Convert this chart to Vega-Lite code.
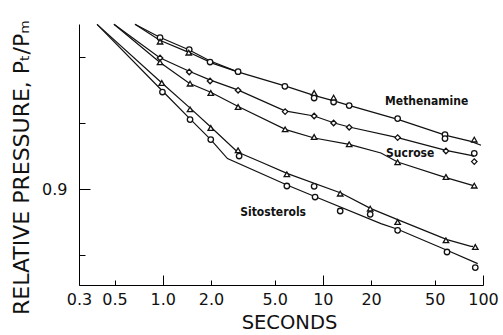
{
  "$schema": "https://vega.github.io/schema/vega-lite/v6.json",
  "width": 404,
  "height": 261,
  "autosize": {"type": "none"},
  "padding": {"left": 79, "top": 24, "right": 20, "bottom": 50},
  "background": "white",
  "config": {"view": {"stroke": null, "fill": null}},
  "datasets": {
    "lines": [
      {"s": "M1", "o": 1, "x": 0.671, "y": 1.0},
      {"s": "M1", "o": 2, "x": 0.958, "y": 0.99212},
      {"s": "M1", "o": 3, "x": 1.454, "y": 0.98455},
      {"s": "M1", "o": 4, "x": 1.967, "y": 0.97788},
      {"s": "M1", "o": 5, "x": 2.94, "y": 0.97121},
      {"s": "M1", "o": 6, "x": 5.79, "y": 0.96273},
      {"s": "M1", "o": 7, "x": 8.79, "y": 0.95697},
      {"s": "M1", "o": 8, "x": 11.72, "y": 0.95364},
      {"s": "M1", "o": 9, "x": 14.54, "y": 0.95091},
      {"s": "M1", "o": 10, "x": 29.4, "y": 0.94242},
      {"s": "M1", "o": 11, "x": 58.7, "y": 0.93273},
      {"s": "M1", "o": 12, "x": 84.1, "y": 0.92909},
      {"s": "M1", "o": 13, "x": 97.2, "y": 0.92667},
      {"s": "M2", "o": 1, "x": 0.671, "y": 1.0},
      {"s": "M2", "o": 2, "x": 0.958, "y": 0.9903},
      {"s": "M2", "o": 3, "x": 1.454, "y": 0.98303},
      {"s": "M2", "o": 4, "x": 2.054, "y": 0.97636},
      {"s": "M2", "o": 5, "x": 2.94, "y": 0.97121},
      {"s": "S1", "o": 1, "x": 0.496, "y": 1.0},
      {"s": "S1", "o": 2, "x": 0.958, "y": 0.9797},
      {"s": "S1", "o": 3, "x": 1.464, "y": 0.97152},
      {"s": "S1", "o": 4, "x": 1.967, "y": 0.96636},
      {"s": "S1", "o": 5, "x": 2.94, "y": 0.9603},
      {"s": "S1", "o": 6, "x": 5.79, "y": 0.94758},
      {"s": "S1", "o": 7, "x": 8.82, "y": 0.94442},
      {"s": "S1", "o": 8, "x": 11.77, "y": 0.94018},
      {"s": "S1", "o": 9, "x": 14.6, "y": 0.93776},
      {"s": "S1", "o": 10, "x": 29.3, "y": 0.93133},
      {"s": "S1", "o": 11, "x": 58.7, "y": 0.92364},
      {"s": "S1", "o": 12, "x": 84.1, "y": 0.92061},
      {"s": "S1", "o": 13, "x": 87.8, "y": 0.92},
      {"s": "S2", "o": 1, "x": 0.496, "y": 1.0},
      {"s": "S2", "o": 2, "x": 0.958, "y": 0.97697},
      {"s": "S2", "o": 3, "x": 1.464, "y": 0.96424},
      {"s": "S2", "o": 4, "x": 1.995, "y": 0.95879},
      {"s": "S2", "o": 5, "x": 2.94, "y": 0.9503},
      {"s": "S2", "o": 6, "x": 5.87, "y": 0.93618},
      {"s": "S2", "o": 7, "x": 8.82, "y": 0.93109},
      {"s": "S2", "o": 8, "x": 14.6, "y": 0.92727},
      {"s": "S2", "o": 9, "x": 23.05, "y": 0.922},
      {"s": "S2", "o": 10, "x": 29.3, "y": 0.91655},
      {"s": "S2", "o": 11, "x": 58.7, "y": 0.90709},
      {"s": "S2", "o": 12, "x": 90.4, "y": 0.90182},
      {"s": "T1", "o": 1, "x": 0.389, "y": 1.0},
      {"s": "T1", "o": 2, "x": 0.972, "y": 0.96503},
      {"s": "T1", "o": 3, "x": 1.496, "y": 0.94891},
      {"s": "T1", "o": 4, "x": 1.995, "y": 0.93776},
      {"s": "T1", "o": 5, "x": 2.93, "y": 0.9226},
      {"s": "T1", "o": 6, "x": 4.1, "y": 0.91655},
      {"s": "T1", "o": 7, "x": 6.02, "y": 0.90952},
      {"s": "T1", "o": 8, "x": 12.96, "y": 0.89776},
      {"s": "T1", "o": 9, "x": 19.95, "y": 0.8883},
      {"s": "T1", "o": 10, "x": 29.3, "y": 0.88164},
      {"s": "T1", "o": 11, "x": 59.6, "y": 0.86952},
      {"s": "T1", "o": 12, "x": 84.1, "y": 0.86545},
      {"s": "T1", "o": 13, "x": 86.6, "y": 0.86545},
      {"s": "C1", "o": 1, "x": 0.389, "y": 1.0},
      {"s": "C1", "o": 2, "x": 0.996, "y": 0.95958},
      {"s": "C1", "o": 3, "x": 1.496, "y": 0.94224},
      {"s": "C1", "o": 4, "x": 1.995, "y": 0.93012},
      {"s": "C1", "o": 5, "x": 2.537, "y": 0.9186},
      {"s": "C1", "o": 6, "x": 6.02, "y": 0.90242},
      {"s": "C1", "o": 7, "x": 8.82, "y": 0.89576},
      {"s": "C1", "o": 8, "x": 23.05, "y": 0.87921},
      {"s": "C1", "o": 9, "x": 29.3, "y": 0.87576},
      {"s": "C1", "o": 10, "x": 59.6, "y": 0.86303},
      {"s": "C1", "o": 11, "x": 92.7, "y": 0.85497}
    ],
    "points": [
      {"shape": "circle", "x": 0.962, "y": 0.99194},
      {"shape": "circle", "x": 1.464, "y": 0.98467},
      {"shape": "circle", "x": 1.975, "y": 0.97715},
      {"shape": "circle", "x": 2.955, "y": 0.97133},
      {"shape": "circle", "x": 5.79, "y": 0.96242},
      {"shape": "circle", "x": 8.82, "y": 0.95533},
      {"shape": "circle", "x": 11.67, "y": 0.95291},
      {"shape": "circle", "x": 14.6, "y": 0.95073},
      {"shape": "circle", "x": 29.3, "y": 0.94285},
      {"shape": "circle", "x": 57.9, "y": 0.93315},
      {"shape": "circle", "x": 57.9, "y": 0.93073},
      {"shape": "triangle", "x": 0.962, "y": 0.98952},
      {"shape": "triangle", "x": 1.454, "y": 0.98285},
      {"shape": "triangle", "x": 8.82, "y": 0.95836},
      {"shape": "triangle", "x": 11.67, "y": 0.95558},
      {"shape": "triangle", "x": 88.2, "y": 0.93012},
      {"shape": "circle", "x": 88.2, "y": 0.92182},
      {"shape": "diamond", "x": 0.962, "y": 0.97958},
      {"shape": "diamond", "x": 1.464, "y": 0.97109},
      {"shape": "diamond", "x": 1.975, "y": 0.96564},
      {"shape": "diamond", "x": 2.955, "y": 0.96},
      {"shape": "diamond", "x": 5.81, "y": 0.94709},
      {"shape": "diamond", "x": 8.82, "y": 0.94442},
      {"shape": "diamond", "x": 11.67, "y": 0.94018},
      {"shape": "diamond", "x": 14.6, "y": 0.93758},
      {"shape": "diamond", "x": 29.3, "y": 0.93133},
      {"shape": "diamond", "x": 58.7, "y": 0.92321},
      {"shape": "diamond", "x": 88.2, "y": 0.91679},
      {"shape": "triangle", "x": 0.962, "y": 0.97697},
      {"shape": "triangle", "x": 1.481, "y": 0.96406},
      {"shape": "triangle", "x": 1.995, "y": 0.95836},
      {"shape": "triangle", "x": 2.955, "y": 0.94988},
      {"shape": "triangle", "x": 5.81, "y": 0.93636},
      {"shape": "triangle", "x": 8.82, "y": 0.9317},
      {"shape": "triangle", "x": 14.6, "y": 0.92727},
      {"shape": "triangle", "x": 29.3, "y": 0.91636},
      {"shape": "triangle", "x": 58.7, "y": 0.90745},
      {"shape": "triangle", "x": 88.2, "y": 0.90224},
      {"shape": "triangle", "x": 0.986, "y": 0.96442},
      {"shape": "triangle", "x": 1.481, "y": 0.94848},
      {"shape": "triangle", "x": 1.995, "y": 0.93715},
      {"shape": "triangle", "x": 2.955, "y": 0.92364},
      {"shape": "triangle", "x": 5.96, "y": 0.90909},
      {"shape": "circle", "x": 8.82, "y": 0.90182},
      {"shape": "triangle", "x": 12.83, "y": 0.89739},
      {"shape": "triangle", "x": 19.75, "y": 0.8883},
      {"shape": "triangle", "x": 29.3, "y": 0.88018},
      {"shape": "triangle", "x": 58.7, "y": 0.86909},
      {"shape": "triangle", "x": 89.5, "y": 0.86503},
      {"shape": "circle", "x": 0.996, "y": 0.95897},
      {"shape": "circle", "x": 1.481, "y": 0.94224},
      {"shape": "circle", "x": 1.995, "y": 0.93012},
      {"shape": "circle", "x": 3.0, "y": 0.92018},
      {"shape": "circle", "x": 5.96, "y": 0.902},
      {"shape": "circle", "x": 8.94, "y": 0.89533},
      {"shape": "circle", "x": 12.83, "y": 0.88685},
      {"shape": "circle", "x": 19.75, "y": 0.88485},
      {"shape": "circle", "x": 29.3, "y": 0.87515},
      {"shape": "circle", "x": 59.6, "y": 0.862},
      {"shape": "circle", "x": 89.5, "y": 0.85255}
    ],
    "labels": [
      {"label": "Methenamine", "x": 44.5, "y": 0.95333},
      {"label": "Sucrose", "x": 35.1, "y": 0.92224},
      {"label": "Sitosterols", "x": 4.89, "y": 0.88624}
    ]
  },
  "layer": [
    {
      "data": {"name": "lines"},
      "mark": {"type": "line", "color": "#111", "strokeWidth": 1.2},
      "encoding": {
        "x": {
          "field": "x", "type": "quantitative",
          "scale": {"type": "log", "domain": [0.3, 100], "nice": false},
          "axis": {
            "values": [0.3, 0.5, 1, 2, 5, 10, 20, 50, 100],
            "labelExpr": "datum.value < 9 ? format(datum.value, '.1f') : format(datum.value, 'd')",
            "title": "SECONDS",
            "grid": false,
            "domainColor": "black",
            "tickColor": "black",
            "tickSize": {"condition": {"test": "datum.value == 1 || datum.value == 10 || datum.value == 100", "value": -10}, "value": -5},
            "labelPadding": {"condition": {"test": "datum.value == 1 || datum.value == 10 || datum.value == 100", "value": 16}, "value": 11},
            "labelFlush": false,
            "labelOverlap": false,
            "labelFont": "DejaVu Sans", "labelFontSize": 16, "labelColor": "#111",
            "titleFont": "DejaVu Sans", "titleFontSize": 19.5, "titleFontWeight": "normal", "titleColor": "#111",
            "titleX": 210, "titleY": 37, "titleBaseline": "middle"
          }
        },
        "y": {
          "field": "y", "type": "quantitative",
          "scale": {"domain": [0.842, 1.0002], "nice": false, "zero": false},
          "axis": {
            "values": [1.0, 0.98, 0.9, 0.96, 0.94, 0.92, 0.88, 0.86],
            "labelExpr": "abs(datum.value - 1) < 0.001 ? '1.0' : abs(datum.value - 0.9) < 0.001 ? '0.9' : ''",
            "title": "RELATIVE PRESSURE, Pₜ/Pₘ",
            "grid": false,
            "domainColor": "black",
            "tickColor": "black",
            "tickSize": {"condition": {"test": "abs(datum.value - 1) < 0.001 || abs(datum.value - 0.9) < 0.001", "value": -11}, "value": -6},
            "labelPadding": 23,
            "labelFlush": false,
            "labelOverlap": false,
            "labelBound": false,
            "labelFont": "DejaVu Sans", "labelFontSize": 16, "labelColor": "#111",
            "titleFont": "DejaVu Sans", "titleFontSize": 22, "titleFontWeight": "normal", "titleColor": "#111",
            "titleX": -58, "titleY": 143, "titleBaseline": "middle", "titleAngle": -90
          }
        },
        "detail": {"field": "s", "type": "nominal"},
        "order": {"field": "o", "type": "quantitative"}
      }
    },
    {
      "data": {"name": "points"},
      "mark": {"type": "point", "filled": true, "fill": "white", "stroke": "#111", "strokeWidth": 1.3, "size": 30, "opacity": 1},
      "encoding": {
        "x": {"field": "x", "type": "quantitative", "scale": {"type": "log", "domain": [0.3, 100], "nice": false}},
        "y": {"field": "y", "type": "quantitative", "scale": {"domain": [0.842, 1.0002], "nice": false, "zero": false}},
        "shape": {"field": "shape", "type": "nominal", "legend": null,
          "scale": {"domain": ["circle", "triangle", "diamond"], "range": ["circle", "triangle-up", "diamond"]}}
      }
    },
    {
      "data": {"name": "labels"},
      "mark": {"type": "text", "font": "'DejaVu Sans Condensed', 'Liberation Sans Narrow', 'Roboto Condensed', 'Noto Sans', sans-serif", "fontWeight": "bold", "fontSize": 12, "color": "#111", "align": "center", "baseline": "middle"},
      "encoding": {
        "x": {"field": "x", "type": "quantitative", "scale": {"type": "log", "domain": [0.3, 100], "nice": false}},
        "y": {"field": "y", "type": "quantitative", "scale": {"domain": [0.842, 1.0002], "nice": false, "zero": false}},
        "text": {"field": "label"}
      }
    }
  ]
}
